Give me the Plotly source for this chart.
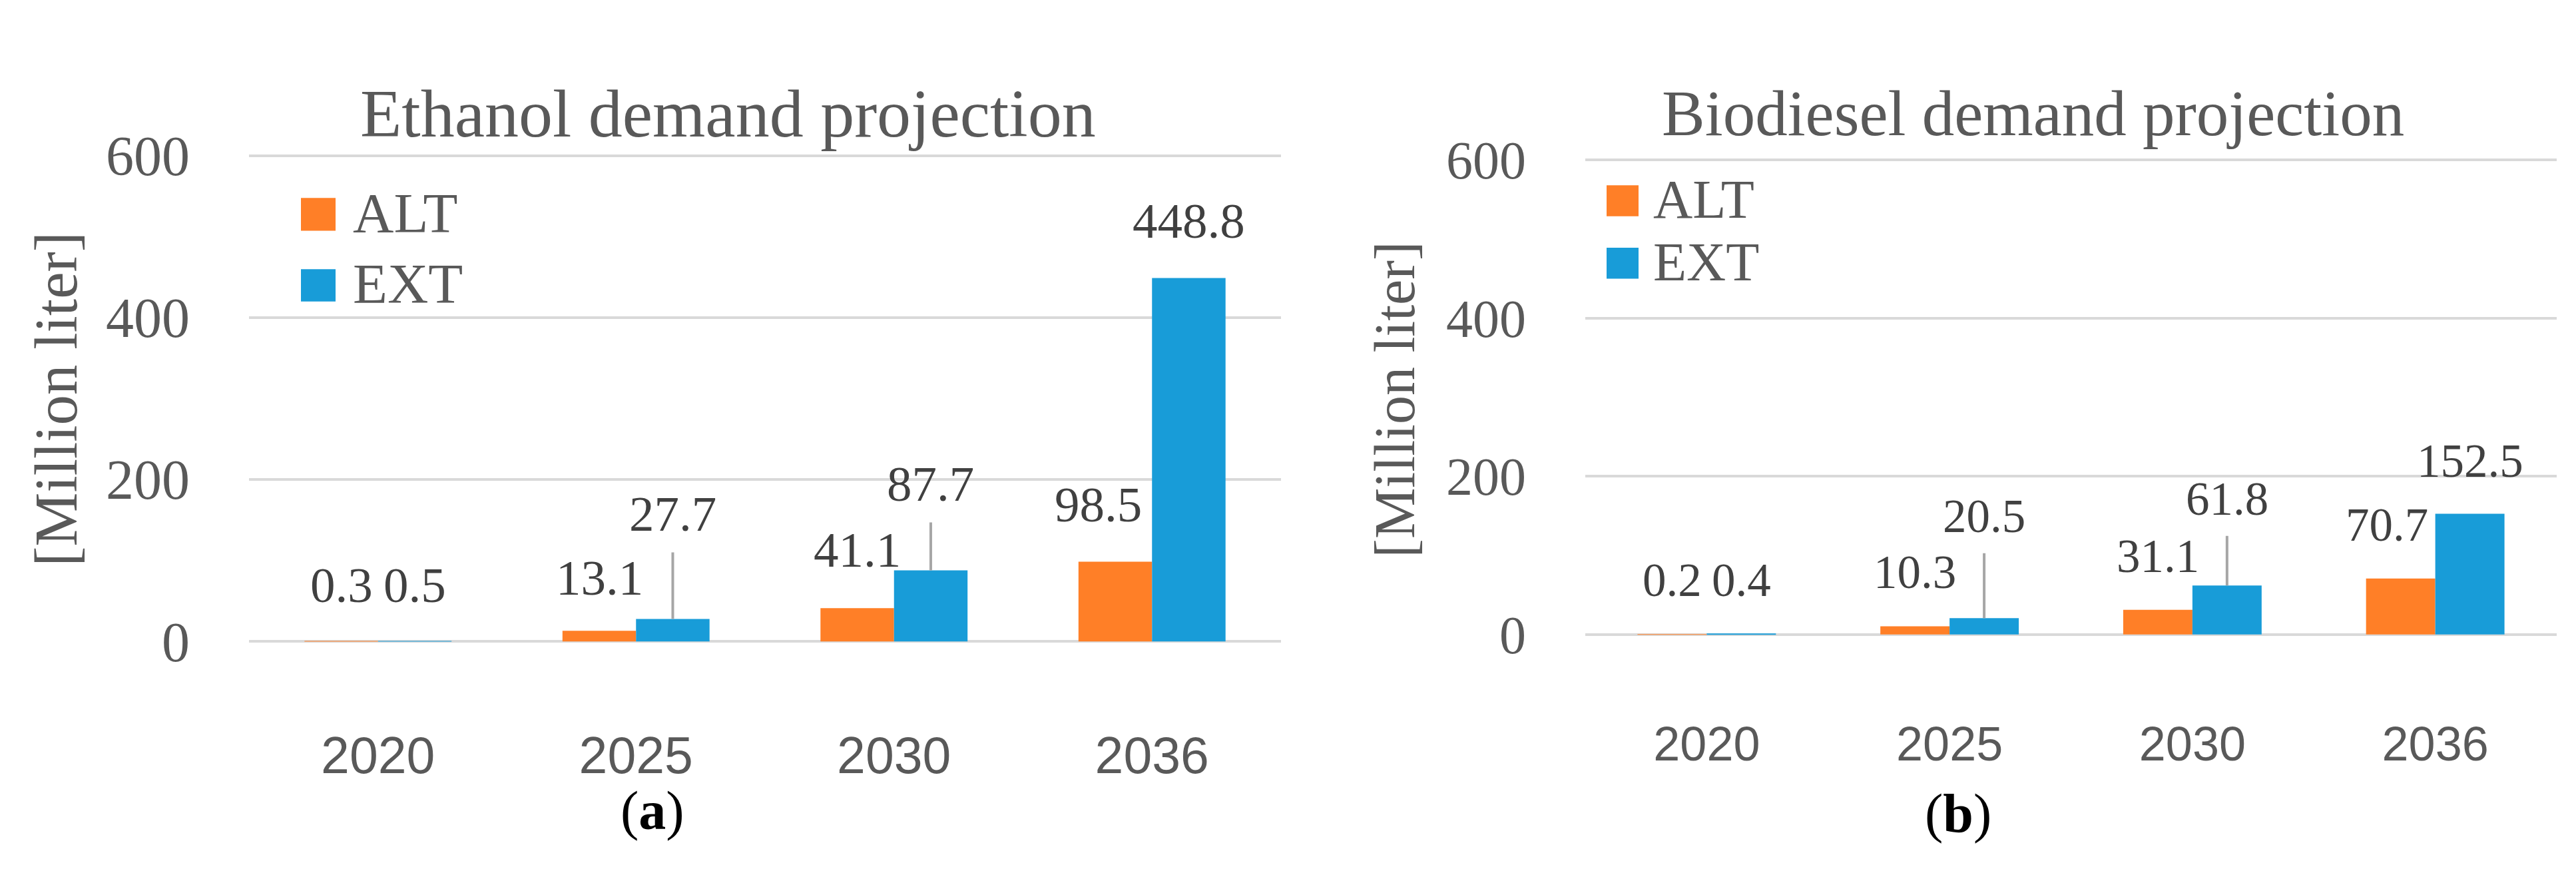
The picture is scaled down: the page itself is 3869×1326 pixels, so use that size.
import plotly.graph_objects as go

# ---------------- data ----------------
years = ["2020", "2025", "2030", "2036"]
series_names = ["ALT", "EXT"]
ethanol_alt = [0.3, 13.1, 41.1, 98.5]
ethanol_ext = [0.5, 27.7, 87.7, 448.8]
biodiesel_alt = [0.2, 10.3, 31.1, 70.7]
biodiesel_ext = [0.4, 20.5, 61.8, 152.5]
y_ticks = [0, 200, 400, 600]
panel_titles = ["Ethanol demand projection", "Biodiesel demand projection"]
y_title = "[Million liter]"
panel_tags = ["a", "b"]

# ---------------- style ----------------
W, H = 3869, 1326
ORANGE = "#FF7F27"
BLUE = "#189CD8"
GRID = "#D9D9D9"
TXT = "#595959"
LBL = "#404040"
LEADER = "#A6A6A6"
SERIF = "Liberation Serif"
SANS = "Liberation Sans"
BARGAP = 0.43
HALF = (1 - BARGAP) / 4  # centre offset of each bar within its group


def px(x):
    return x / W


def py(y):
    return 1 - y / H


panels = [
    dict(alt=ethanol_alt, ext=ethanol_ext, xd=[px(366), px(1916)], yd=[py(984.8), py(190.2)],
         title_xy=(1085, 137), title_size=102, ytitle_xy=(77, 589), ytitle_size=91,
         tick_size=84, xtick_size=77, lbl_size=75, leg_size=85,
         leg_sq=[(444, 496, 270, 322), (444, 496, 383, 434)], leg_txt=[(520, 294), (520, 406)],
         tag_xy=(972, 1240), xstand=108,
         alt_shift=[84, 80, 88, 86], alt_xshift=[0, 0, 0, -26],
         ext_shift=[84, 158, 130, 86], ext_leader=[False, True, True, False]),
    dict(alt=biodiesel_alt, ext=biodiesel_ext, xd=[px(2373), px(3832)], yd=[py(973.5), py(197.5)],
         title_xy=(3045, 137), title_size=97, ytitle_xy=(2087, 590), ytitle_size=86,
         tick_size=80, xtick_size=72, lbl_size=71, leg_size=82,
         leg_sq=[(2405, 2453, 250, 299), (2405, 2453, 349, 398)], leg_txt=[(2473, 273), (2473, 372)],
         tag_xy=(2933, 1244), xstand=104,
         alt_shift=[81, 81, 81, 81], alt_xshift=[0, 0, 0, -21],
         ext_shift=[81, 153, 130, 80], ext_leader=[False, True, True, False]),
]

fig = go.Figure()
annotations = []
shapes = []

for k, p in enumerate(panels):
    xa = "x" if k == 0 else "x2"
    ya = "y" if k == 0 else "y2"
    for name, vals, col in [(series_names[0], p["alt"], ORANGE), (series_names[1], p["ext"], BLUE)]:
        fig.add_trace(go.Bar(x=years, y=vals, name=name, marker=dict(color=col, line=dict(width=0)),
                             xaxis=xa, yaxis=ya, showlegend=False, hoverinfo="x+y+name"))

    # data labels
    for i, v in enumerate(p["alt"]):
        annotations.append(dict(x=i - HALF, y=v, xref=xa, yref=ya, text=f"{v:.1f}", showarrow=False,
                                yshift=p["alt_shift"][i], xshift=p["alt_xshift"][i],
                                font=dict(family=SERIF, size=p["lbl_size"], color=LBL)))
    for i, v in enumerate(p["ext"]):
        if p["ext_leader"][i]:
            annotations.append(dict(x=i + HALF, y=v, xref=xa, yref=ya, text=f"{v:.1f}", showarrow=True,
                                    ax=0, ay=-p["ext_shift"][i], arrowhead=0, arrowwidth=4,
                                    arrowcolor=LEADER, standoff=0, borderpad=16,
                                    font=dict(family=SERIF, size=p["lbl_size"], color=LBL)))
        else:
            annotations.append(dict(x=i + HALF, y=v, xref=xa, yref=ya, text=f"{v:.1f}", showarrow=False,
                                    yshift=p["ext_shift"][i],
                                    font=dict(family=SERIF, size=p["lbl_size"], color=LBL)))

    # title
    annotations.append(dict(x=px(p["title_xy"][0]), y=py(p["title_xy"][1]), xref="paper", yref="paper",
                            text=panel_titles[k], showarrow=False, xanchor="center", yanchor="middle",
                            font=dict(family=SERIF, size=p["title_size"], color=TXT)))
    # y title
    annotations.append(dict(x=px(p["ytitle_xy"][0]), y=py(p["ytitle_xy"][1]), xref="paper", yref="paper",
                            text=y_title, showarrow=False, textangle=-90, xanchor="center", yanchor="middle",
                            font=dict(family=SERIF, size=p["ytitle_size"], color=TXT)))
    # panel tag
    annotations.append(dict(x=px(p["tag_xy"][0]), y=py(p["tag_xy"][1]), xref="paper", yref="paper",
                            text=f"(<b>{panel_tags[k]}</b>)", showarrow=False, xanchor="center",
                            yanchor="middle", font=dict(family=SERIF, size=82, color="#000000")))
    # legend
    for j, col in enumerate([ORANGE, BLUE]):
        x0, x1, y0, y1 = p["leg_sq"][j]
        shapes.append(dict(type="rect", xref="paper", yref="paper", x0=px(x0), x1=px(x1),
                           y0=py(y1), y1=py(y0), fillcolor=col, line=dict(width=0)))
        tx, ty = p["leg_txt"][j]
        annotations.append(dict(x=px(tx), y=py(ty), xref="paper", yref="paper", text=series_names[j],
                                showarrow=False, xanchor="left", yanchor="middle",
                                font=dict(family=SERIF, size=p["leg_size"], color=TXT)))

    axis_x = dict(domain=p["xd"], type="category", showgrid=False, showline=False, zeroline=False,
                  ticks="", tickfont=dict(family=SANS, size=p["xtick_size"], color=TXT),
                  ticklabelstandoff=p["xstand"], anchor=ya, fixedrange=True)
    axis_y = dict(domain=p["yd"], range=[-10, 610], tickvals=y_ticks, showgrid=True, gridcolor=GRID,
                  gridwidth=4, zeroline=True, zerolinecolor=GRID, zerolinewidth=4, showline=False,
                  ticks="", tickfont=dict(family=SERIF, size=p["tick_size"], color=TXT),
                  ticklabelstandoff=88, anchor=xa, fixedrange=True)
    if k == 0:
        fig.update_layout(xaxis=axis_x, yaxis=axis_y)
    else:
        fig.update_layout(xaxis2=axis_x, yaxis2=axis_y)

fig.update_layout(width=W, height=H, margin=dict(l=0, r=0, t=0, b=0), paper_bgcolor="white",
                  plot_bgcolor="white", barmode="group", bargap=BARGAP, bargroupgap=0,
                  annotations=annotations, shapes=shapes, showlegend=False)

fig.write_html("out.html")
